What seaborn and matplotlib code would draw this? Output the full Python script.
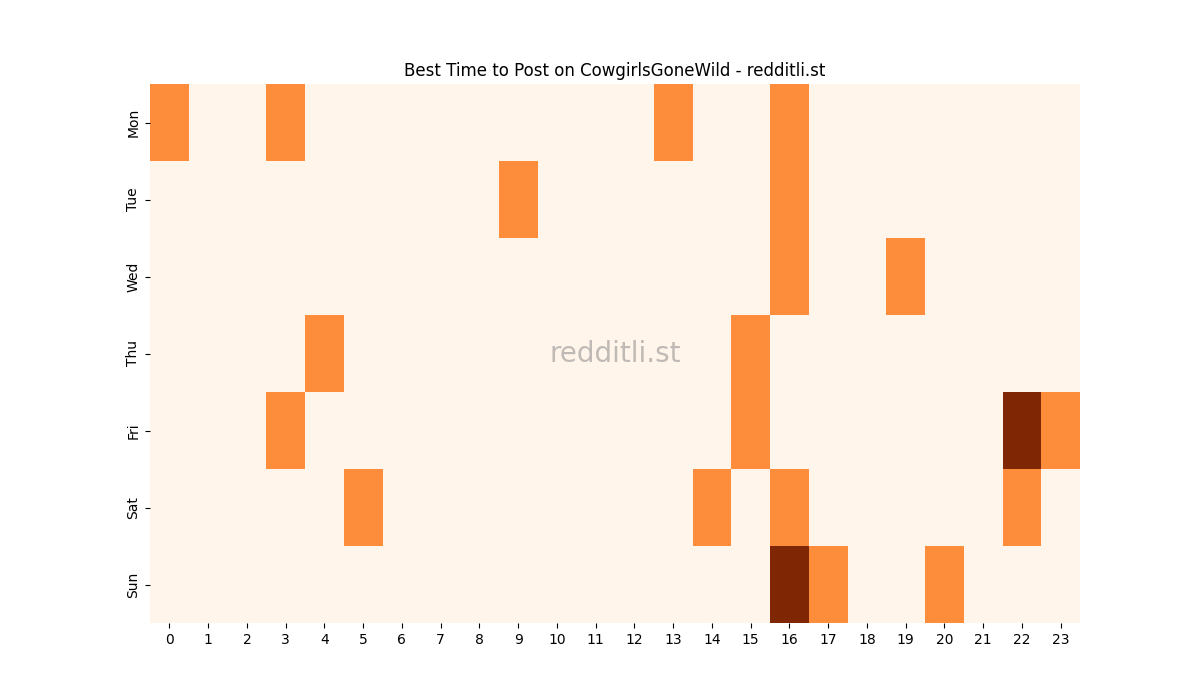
import numpy as np
import pandas as pd
import matplotlib
matplotlib.use("Agg")
import matplotlib.pyplot as plt
import seaborn as sns

days = ["Mon", "Tue", "Wed", "Thu", "Fri", "Sat", "Sun"]
hours = list(range(24))
mon = {0: 1, 3: 1, 13: 1, 16: 1}
tue = {9: 1, 16: 1}
wed = {16: 1, 19: 1}
thu = {4: 1, 15: 1}
fri = {3: 1, 15: 1, 22: 2, 23: 1}
sat = {5: 1, 14: 1, 16: 1, 22: 1}
sun = {16: 2, 17: 1, 20: 1}
rows = [mon, tue, wed, thu, fri, sat, sun]

data = pd.DataFrame([[r.get(h, 0) for h in hours] for r in rows], index=days, columns=hours)

fig, ax = plt.subplots(figsize=(12, 7), dpi=100)
sns.heatmap(data, cmap="Oranges", cbar=False, ax=ax, vmin=0, vmax=2)
ax.set_title("Best Time to Post on CowgirlsGoneWild - redditli.st")
ax.text(0.5, 0.5, "redditli.st", transform=ax.transAxes, ha="center", va="center",
        fontsize=20, color="gray", alpha=0.5)
fig.savefig("out.png")
